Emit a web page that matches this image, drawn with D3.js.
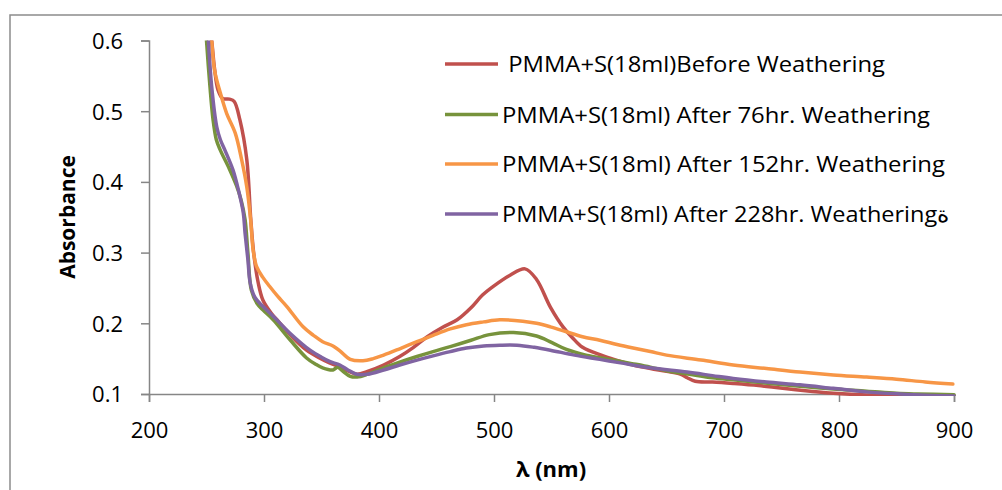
<!DOCTYPE html>
<html>
<head>
<meta charset="utf-8">
<script src="https://cdn.jsdelivr.net/npm/d3@7"></script>
<style>
  html, body { margin: 0; padding: 0; background: #fff; }
  svg { display: block; }
</style>
</head>
<body>
<svg id="chart" width="1002" height="490"></svg>
<script>
// ---- Data ----
const xTicks = [200, 300, 400, 500, 600, 700, 800, 900];
const yTicks = [0.1, 0.2, 0.3, 0.4, 0.5, 0.6];

const seriesNames = [
  " PMMA+S(18ml)Before Weathering",
  "PMMA+S(18ml) After 76hr. Weathering",
  "PMMA+S(18ml) After 152hr. Weathering",
  "PMMA+S(18ml) After 228hr. Weatheringة"
];
const seriesColors = ["#C0504D", "#77933C", "#F79646", "#8064A2"];

const beforeWeathering = [
  [252,0.63],[254.5,0.6],[257,0.56],[260,0.53],[264,0.518],[270,0.517],[274,0.514],[279,0.488],
  [285,0.432],[288.5,0.347],[291,0.30],[295,0.257],[299,0.233],[306,0.215],[314,0.2],[325,0.18],
  [337,0.162],[347,0.152],[357,0.144],[366,0.138],[374,0.132],[381,0.128],[390,0.132],[404,0.141],
  [418,0.153],[430,0.166],[442,0.181],[455,0.194],[468,0.205],[480,0.222],[490,0.240],[500,0.253],
  [514,0.268],[527,0.277],[537,0.262],[549,0.223],[560,0.195],[568,0.180],[577,0.166],[595,0.154],
  [610,0.146],[621,0.141],[636,0.136],[650,0.132],[662,0.128],[668,0.123],[675,0.118],[690,0.117],
  [708,0.115],[730,0.112],[751,0.108],[775,0.104],[795,0.101],[820,0.099],[860,0.098],[900,0.097]
];
const after76hr = [
  [249,0.63],[250,0.6],[253,0.535],[255.7,0.488],[258.5,0.46],[261.7,0.446],[270,0.418],[276,0.395],
  [280,0.375],[283.5,0.347],[286,0.30],[289,0.247],[294,0.228],[299,0.219],[308,0.205],[323,0.176],
  [337,0.151],[345,0.142],[351,0.137],[360,0.134],[364,0.138],[368,0.133],[375,0.125],[381,0.124],
  [390,0.128],[404,0.137],[418,0.145],[433,0.153],[447,0.160],[462,0.167],[480,0.176],[496,0.184],
  [517,0.187],[537,0.182],[550,0.173],[563,0.163],[580,0.155],[600,0.149],[620,0.143],[636,0.138],
  [650,0.133],[670,0.128],[690,0.123],[708,0.12],[740,0.115],[766,0.111],[795,0.107],[824,0.104],
  [850,0.101],[868,0.1],[900,0.099]
];
const after152hr = [
  [253,0.63],[254.5,0.6],[257,0.558],[262,0.526],[267.5,0.497],[275,0.469],[280.6,0.431],[285,0.393],
  [288.4,0.346],[290.6,0.303],[293.6,0.28],[299,0.265],[305,0.252],[312,0.238],[319.7,0.224],[334,0.195],
  [343,0.183],[351,0.174],[360,0.168],[366,0.161],[375,0.149],[386,0.147],[395,0.15],[404,0.155],
  [418,0.164],[433,0.174],[447,0.183],[462,0.192],[476,0.198],[491,0.202],[505,0.205],[525,0.203],
  [537,0.2],[549,0.195],[563,0.188],[577,0.181],[592,0.176],[607,0.17],[621,0.165],[636,0.16],
  [650,0.155],[680,0.148],[708,0.141],[737,0.136],[766,0.131],[795,0.127],[824,0.124],[850,0.121],
  [875,0.117],[899,0.114]
];
const after228hr = [
  [250.5,0.63],[251.6,0.6],[254.5,0.535],[258.9,0.478],[262,0.46],[266,0.445],[273,0.417],[277.7,0.389],
  [282,0.356],[283.5,0.328],[286,0.29],[288,0.257],[292,0.237],[299,0.224],[308,0.21],[322.6,0.186],
  [340,0.162],[350,0.152],[357,0.146],[366,0.141],[373,0.134],[380.6,0.128],[390,0.128],[404,0.134],
  [418,0.141],[433,0.148],[447,0.154],[462,0.16],[476,0.165],[491,0.168],[505,0.169],[520,0.169],
  [535,0.166],[549,0.162],[570,0.155],[592,0.149],[610,0.144],[636,0.137],[668,0.131],[690,0.126],
  [708,0.122],[737,0.117],[766,0.113],[795,0.108],[824,0.103],[853,0.1],[880,0.098],[900,0.097]
];
const allSeries = [beforeWeathering, after76hr, after152hr, after228hr];

// ---- Drawing ----
const svg = d3.select("#chart");
const font = "'Open Sans', 'Noto Sans', sans-serif";
const axisColor = "#868686";

svg.append("rect").attr("x", 0).attr("y", 0).attr("width", 1002).attr("height", 490).attr("fill", "#fff");
// outer chart frame
svg.append("rect").attr("x", 10).attr("y", 15).attr("width", 1010).attr("height", 500)
  .attr("fill", "none").attr("stroke", "#8c8c8c").attr("stroke-width", 1.5);

const x = d3.scaleLinear().domain([200, 900]).range([149, 954]);
const y = d3.scaleLinear().domain([0.1, 0.6]).range([394, 40.5]);

svg.append("defs").append("clipPath").attr("id", "plotClip")
  .append("rect").attr("x", 149).attr("y", 40.5).attr("width", 807).attr("height", 355.5);

// Y axis
const yAxis = svg.append("g").attr("transform", "translate(149,0)")
  .call(d3.axisLeft(y).tickValues(yTicks).tickFormat(d3.format(".1f")).tickSizeOuter(0).tickSize(8).tickPadding(18));
yAxis.select(".domain").attr("stroke", axisColor).attr("stroke-width", 1.5);
yAxis.selectAll(".tick line").attr("stroke", axisColor).attr("stroke-width", 1.5);
yAxis.selectAll(".tick text").attr("fill", "#000").style("font-family", font).style("font-size", "22px")
  .attr("dy", "0.36em");

// X axis
const xAxis = svg.append("g").attr("transform", "translate(0,394)")
  .call(d3.axisBottom(x).tickValues(xTicks).tickFormat(d3.format("d")).tickSizeOuter(0).tickSize(8).tickPadding(20));
xAxis.select(".domain").attr("stroke", axisColor).attr("stroke-width", 1.5);
xAxis.selectAll(".tick line").attr("stroke", axisColor).attr("stroke-width", 1.5);
xAxis.selectAll(".tick text").attr("fill", "#000").style("font-family", font).style("font-size", "22px");

// Lines
const line = d3.line().x(d => x(d[0])).y(d => y(d[1])).curve(d3.curveCatmullRom.alpha(0.5));
const plot = svg.append("g").attr("clip-path", "url(#plotClip)");
allSeries.forEach((s, i) => {
  plot.append("path").datum(s).attr("d", line)
    .attr("fill", "none").attr("stroke", seriesColors[i]).attr("stroke-width", 3.5)
    .attr("stroke-linejoin", "round").attr("stroke-linecap", "round");
});

// Axis titles
svg.append("text").attr("x", 551).attr("y", 477).attr("text-anchor", "middle")
  .style("font-family", font).style("font-size", "22px").style("font-weight", "bold")
  .text("λ (nm)");
svg.append("text").attr("transform", "translate(75,217) rotate(-90)").attr("text-anchor", "middle")
  .style("font-family", font).style("font-size", "21px").style("font-weight", "bold")
  .text("Absorbance");

// Legend
const legendRowY = [64, 114.5, 164, 214];
const legendTextX = [502, 502, 502, 502];
const legendTextLen = [383, 428, 443, 448];
const legend = svg.append("g");
seriesNames.forEach((name, i) => {
  legend.append("line").attr("x1", 445).attr("x2", 498)
    .attr("y1", legendRowY[i]).attr("y2", legendRowY[i])
    .attr("stroke", seriesColors[i]).attr("stroke-width", 3.5);
  legend.append("text").attr("x", legendTextX[i]).attr("y", legendRowY[i] + 8)
    .style("font-family", font).style("font-size", "22px").attr("fill", "#000")
    .attr("xml:space", "preserve").style("white-space", "pre")
    .attr("textLength", legendTextLen[i]).attr("lengthAdjust", "spacingAndGlyphs")
    .text(name);
});
</script>
</body>
</html>
